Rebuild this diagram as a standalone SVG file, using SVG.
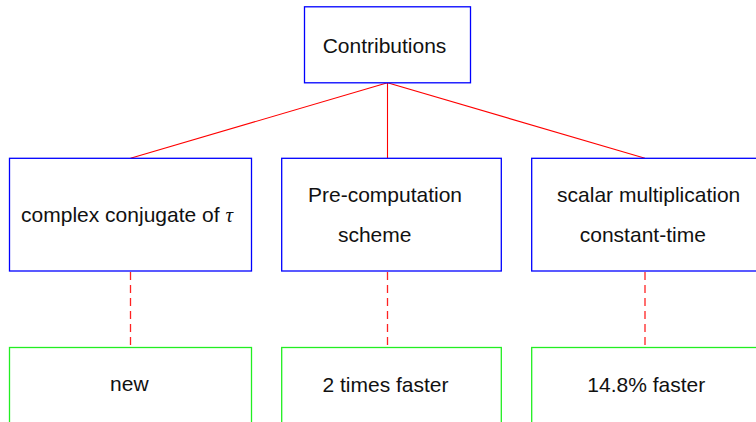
<svg xmlns="http://www.w3.org/2000/svg" width="756" height="422" viewBox="0 0 756 422">
<style>
.b{fill:#fff;stroke:#0000ff;stroke-width:1.3}
.g{fill:#fff;stroke:#22ee22;stroke-width:1.3}
.t{font-family:"Liberation Sans",Arial,sans-serif;font-size:21px;fill:#111;text-anchor:middle}
.c{stroke:#ff0000;stroke-width:1.1;fill:none}
.d{stroke:#ff2222;stroke-width:1.3;stroke-dasharray:8,5;fill:none}
</style>
<rect width="756" height="422" fill="#fff"/>
<g id="connectors">
<line class="c" x1="387.5" y1="82.7" x2="130.5" y2="158.3"/>
<line class="c" x1="387.5" y1="82.7" x2="387.5" y2="158.3"/>
<line class="c" x1="387.5" y1="82.7" x2="645" y2="158.3"/>
<line class="d" x1="130.5" y1="272" x2="130.5" y2="347.5"/>
<line class="d" x1="387.5" y1="272" x2="387.5" y2="347.5"/>
<line class="d" x1="645" y1="272" x2="645" y2="347.5"/>
</g>
<g id="contributions">
<rect class="b" x="304.5" y="6.8" width="166" height="76"/>
<text class="t" x="384.5" y="53">Contributions</text>
</g>
<g id="conjugate">
<rect class="b" x="9.5" y="158.3" width="242" height="112.7"/>
<text class="t" x="127" y="221.5">complex conjugate of <tspan font-family="'Liberation Serif',serif" font-style="italic">τ</tspan></text>
</g>
<g id="precomputation">
<rect class="b" x="281.7" y="158.3" width="219.6" height="112.7"/>
<text class="t" x="385" y="202">Pre-computation</text>
<text class="t" x="374.7" y="241.5">scheme</text>
</g>
<g id="scalar">
<rect class="b" x="531.7" y="158.3" width="242" height="112.7"/>
<text class="t" x="648.7" y="202">scalar multiplication</text>
<text class="t" x="642.8" y="241.5">constant-time</text>
</g>
<g id="new">
<rect class="g" x="9.5" y="347.5" width="242" height="100"/>
<text class="t" x="129.3" y="390.7">new</text>
</g>
<g id="twotimes">
<rect class="g" x="281.7" y="347.5" width="219.6" height="100"/>
<text class="t" x="385.5" y="391.5">2 times faster</text>
</g>
<g id="faster">
<rect class="g" x="531.7" y="347.5" width="242" height="100"/>
<text class="t" x="646.3" y="391.5">14.8% faster</text>
</g>
</svg>
